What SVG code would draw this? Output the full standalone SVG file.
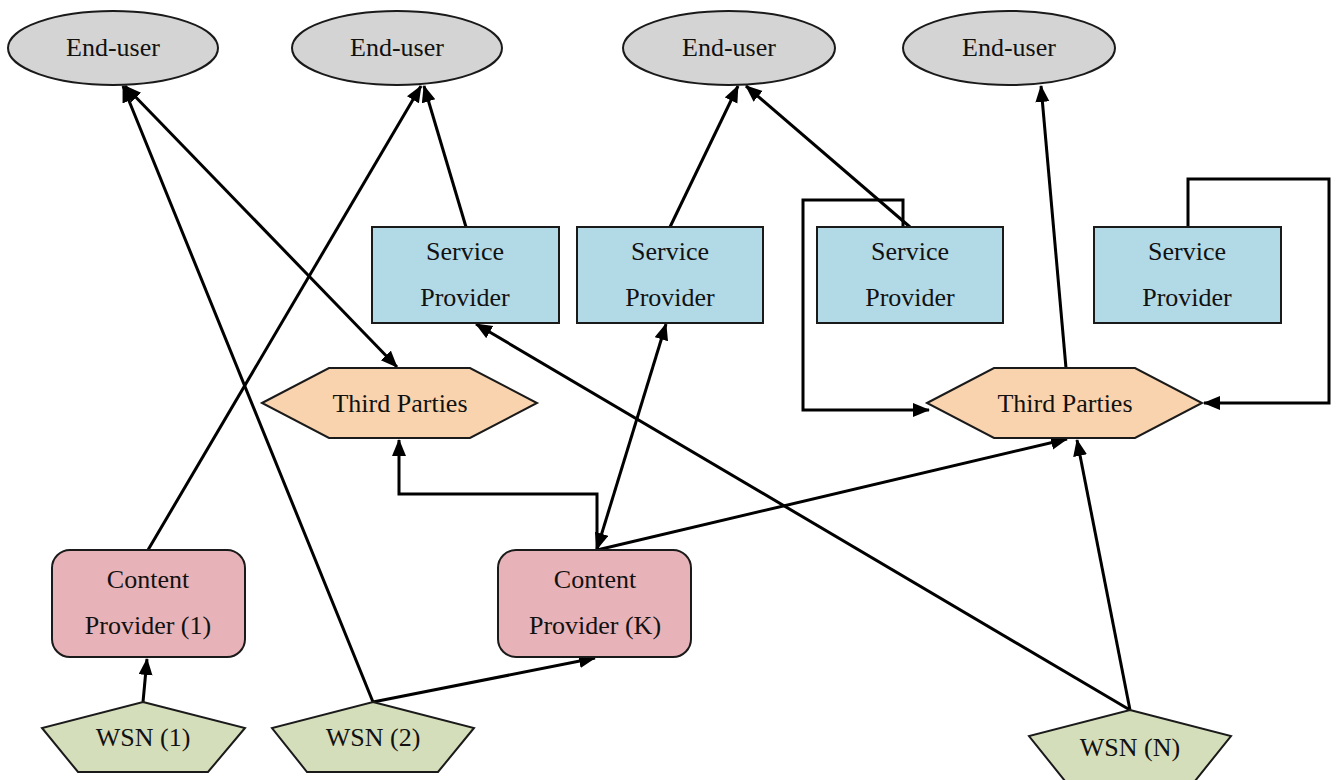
<svg xmlns="http://www.w3.org/2000/svg" width="1337" height="780" viewBox="0 0 1337 780">
  <style>
    text { font-family: "Liberation Serif", "Times New Roman", serif; font-size: 26px; fill: #111; text-anchor: middle; }
    .node { stroke: #1a1a1a; stroke-width: 2; }
    .user { fill: #d4d4d4; }
    .sp { fill: #b2d9e6; }
    .tp { fill: #f9d3ae; }
    .cp { fill: #e8b3b8; }
    .wsn { fill: #d5deba; }
    .edge { fill: none; stroke: #000; stroke-width: 3; stroke-linejoin: miter; }
    .a { marker-end: url(#head); }
    .aa { marker-start: url(#head); marker-end: url(#head); }
  </style>
  <defs>
    <marker id="head" markerUnits="userSpaceOnUse" markerWidth="18" markerHeight="16" refX="16" refY="7" orient="auto-start-reverse">
      <path d="M0,0 L17,7 L0,14 z" fill="#000"/>
    </marker>
  </defs>

  <!-- connectors -->
  <g id="edges">
    <path class="edge a" d="M143 702 L147 659"/>
    <path class="edge a" d="M148 550 L421 86"/>
    <path class="edge a" d="M373 702 L123 86"/>
    <path class="edge aa" d="M125 86 L397 367"/>
    <path class="edge a" d="M466 227 L424 86"/>
    <path class="edge a" d="M1130 710 L476 324"/>
    <path class="edge a" d="M373 702 L595 658"/>
    <path class="edge aa" d="M597 549 L666 324"/>
    <path class="edge a" d="M597 550 V494 H399 V440"/>
    <path class="edge a" d="M597 550 L1067 439"/>
    <path class="edge a" d="M1130 710 L1077 440"/>
    <path class="edge a" d="M670 227 L738 86"/>
    <path class="edge a" d="M910 227 L746 86"/>
    <path class="edge a" d="M903 227 V200 H803 V410 H929"/>
    <path class="edge a" d="M1066 368 L1041 86"/>
    <path class="edge a" d="M1188 227 V179 H1329 V403 H1204"/>
  </g>

  <!-- end users -->
  <g id="enduser1"><ellipse class="node user" cx="113" cy="48" rx="105" ry="37"/><text x="113" y="56">End-user</text></g>
  <g id="enduser2"><ellipse class="node user" cx="397" cy="48" rx="105" ry="37"/><text x="397" y="56">End-user</text></g>
  <g id="enduser3"><ellipse class="node user" cx="729" cy="48" rx="106" ry="37"/><text x="729" y="56">End-user</text></g>
  <g id="enduser4"><ellipse class="node user" cx="1009" cy="48" rx="106" ry="37"/><text x="1009" y="56">End-user</text></g>

  <!-- service providers -->
  <g id="sp1"><rect class="node sp" x="372" y="227" width="187" height="96"/><text x="465" y="260">Service</text><text x="465" y="306">Provider</text></g>
  <g id="sp2"><rect class="node sp" x="577" y="227" width="186" height="96"/><text x="670" y="260">Service</text><text x="670" y="306">Provider</text></g>
  <g id="sp3"><rect class="node sp" x="817" y="227" width="186" height="96"/><text x="910" y="260">Service</text><text x="910" y="306">Provider</text></g>
  <g id="sp4"><rect class="node sp" x="1094" y="227" width="187" height="96"/><text x="1187" y="260">Service</text><text x="1187" y="306">Provider</text></g>

  <!-- third parties -->
  <g id="tp1"><polygon class="node tp" points="262,403 329,368 470,368 537,403 470,438 329,438"/><text x="400" y="412">Third Parties</text></g>
  <g id="tp2"><polygon class="node tp" points="927,403 994,368 1135,368 1202,403 1135,438 994,438"/><text x="1065" y="412">Third Parties</text></g>

  <!-- content providers -->
  <g id="cp1"><rect class="node cp" x="52" y="550" width="193" height="107" rx="18"/><text x="148" y="588">Content</text><text x="148" y="634">Provider (1)</text></g>
  <g id="cpk"><rect class="node cp" x="498" y="550" width="193" height="107" rx="18"/><text x="595" y="588">Content</text><text x="595" y="634">Provider (K)</text></g>

  <!-- sensor networks -->
  <g id="wsn1"><polygon class="node wsn" points="143,702 245,728 208,772 78,772 42,728"/><text x="143" y="746">WSN (1)</text></g>
  <g id="wsn2"><polygon class="node wsn" points="373,702 474,728 438,772 307,772 272,728"/><text x="373" y="746">WSN (2)</text></g>
  <g id="wsnN"><polygon class="node wsn" points="1130,710 1231,736 1195,781 1065,781 1029,736"/><text x="1130" y="756">WSN (N)</text></g>
</svg>
